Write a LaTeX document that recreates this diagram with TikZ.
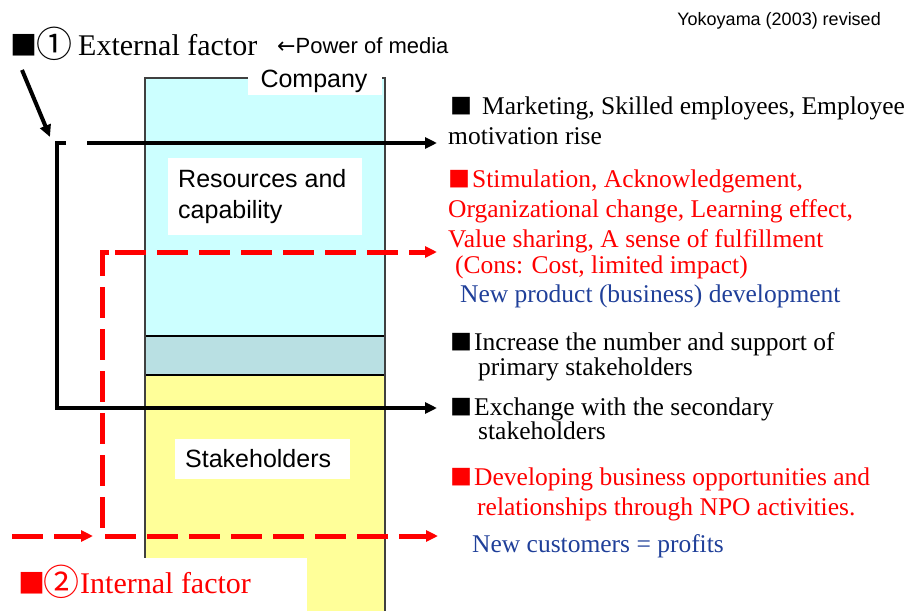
\documentclass[tikz,border=0pt]{standalone}
\usepackage{fontspec}
\setmainfont{Liberation Serif}
\newfontfamily\arialf{Liberation Sans}
\newfontfamily\dvs{DejaVu Sans}
\newfontfamily\cjk{Noto Sans CJK JP}
\usetikzlibrary{arrows.meta}
\definecolor{cyanfill}{HTML}{CCFFFF}
\definecolor{tealband}{HTML}{B9E0E3}
\definecolor{yellowfill}{HTML}{FFFF99}
\definecolor{bluetxt}{HTML}{1F3F99}
\newcommand\sqbox[2]{\makebox[#2][l]{\cjk\fontsize{#1}{#1}\selectfont ■}}
\newcommand\circnum[3]{\makebox[#2][l]{\raisebox{-2pt}{\cjk\fontsize{#1}{#1}\selectfont #3}}}
\begin{document}
\begin{tikzpicture}[x=1pt,y=-1pt,
  serif/.style={anchor=base west,inner sep=0pt,font=\fontsize{25.5}{30}\selectfont},
  sans/.style={anchor=base west,inner sep=0pt,font=\arialf\fontsize{25}{30}\selectfont},
  big/.style={anchor=base west,inner sep=0pt,font=\fontsize{30}{36}\selectfont},
  blkline/.style={line width=4pt,draw=black},
  redline/.style={line width=5pt,draw=red,dash pattern=on 31pt off 11pt},
  tip/.style={-{Triangle[length=12pt,width=11pt]}},
]
\useasboundingbox (0,0) rectangle (909,610);
% company column
\fill[cyanfill] (145,78) rectangle (385,336);
\fill[yellowfill] (145,375) rectangle (385,614);
\filldraw[fill=tealband,draw=black,line width=1.5pt] (145,336) rectangle (385,375);
\draw[line width=1.5pt,draw=black!75] (145,614) -- (145,78) -- (385,78) -- (385,614);
% white label boxes
\fill[white] (248,60) rectangle (382,95);
\fill[white] (168,158) rectangle (362,235);
\fill[white] (175,439) rectangle (350,479);
\fill[white] (0,558) rectangle (307,612);
% labels in column
\node[sans,anchor=base] (company) at (314,87) {Company};
\node[sans] (res1) at (178,187) {Resources and};
\node[sans] (res2) at (178,218) {capability};
\node[sans] (stake) at (185,467) {Stakeholders};
% headings
\node[anchor=base east,inner sep=0pt,font=\arialf\fontsize{18}{22}\selectfont] (cite) at (881,26) {Yokoyama (2003) revised};
\node[big] (ext) at (10,56) {\sqbox{27}{26pt}\circnum{36}{42pt}{①}External factor};
\node[anchor=base west,inner sep=0pt,font=\arialf\fontsize{22}{26}\selectfont] (media) at (277,53) {{\dvs ←}Power of media};
\node[big,text=red] (int) at (18,593) {\sqbox{27}{25pt}\circnum{36}{37pt}{②}Internal factor};
% right texts
\node[serif] (t1a) at (450,114) {\sqbox{22}{32pt}Marketing, Skilled employees, Employee};
\node[serif] (t1b) at (448,144) {motivation rise};
\node[serif,text=red] (t2a) at (448,187) {\sqbox{22}{24pt}Stimulation, Acknowledgement,};
\node[serif,text=red] (t2b) at (448,217) {Organizational change, Learning effect,};
\node[serif,text=red] (t2c) at (448,247) {Value sharing, A sense of fulfillment};
\node[serif,text=red] (t2d) at (455,273) {(Cons: Cost, limited impact)};
\node[serif,text=bluetxt] (t2e) at (460,302) {New product (business) development};
\node[serif] (t3a) at (450,350) {\sqbox{22}{24pt}Increase the number and support of};
\node[serif] (t3b) at (478,375) {primary stakeholders};
\node[serif] (t4a) at (450,415) {\sqbox{22}{24pt}Exchange with the secondary};
\node[serif] (t4b) at (478,439) {stakeholders};
\node[serif,text=red] (t5a) at (450,485) {\sqbox{22}{24pt}Developing business opportunities and};
\node[serif,text=red] (t5b) at (477,515) {relationships through NPO activities.};
\node[serif,text=bluetxt] (t5c) at (472,552) {New customers = profits};
% connector points
\coordinate (d0) at (22,70);
\coordinate (d1) at (50,137);
\coordinate (b0) at (66,143);
\coordinate (bc) at (57,143);
\coordinate (bb) at (57,408);
\coordinate (b1) at (437,408);
\coordinate (a0) at (87,143);
\coordinate (a1) at (437,143);
\coordinate (r0) at (115,252);
\coordinate (r1) at (437,252);
\coordinate (s0) at (109,252);
\coordinate (sc) at (102,252);
\coordinate (sb) at (102,536);
\coordinate (s1) at (438,536);
\coordinate (i0) at (12,536);
\coordinate (i1) at (93,536);
% external factor connectors
\draw[blkline,tip] (d0) -- (d1);
\draw[blkline,tip] (b0) -- (bc) -- (bb) -- (b1);
\draw[blkline,tip] (a0) -- (a1);
% internal factor connectors
\draw[redline,tip] (r0) -- (r1);
\draw[redline,tip] (s0) -- (sc) -- (sb) -- (s1);
\draw[redline,tip] (i0) -- (i1);
\end{tikzpicture}
\end{document}
